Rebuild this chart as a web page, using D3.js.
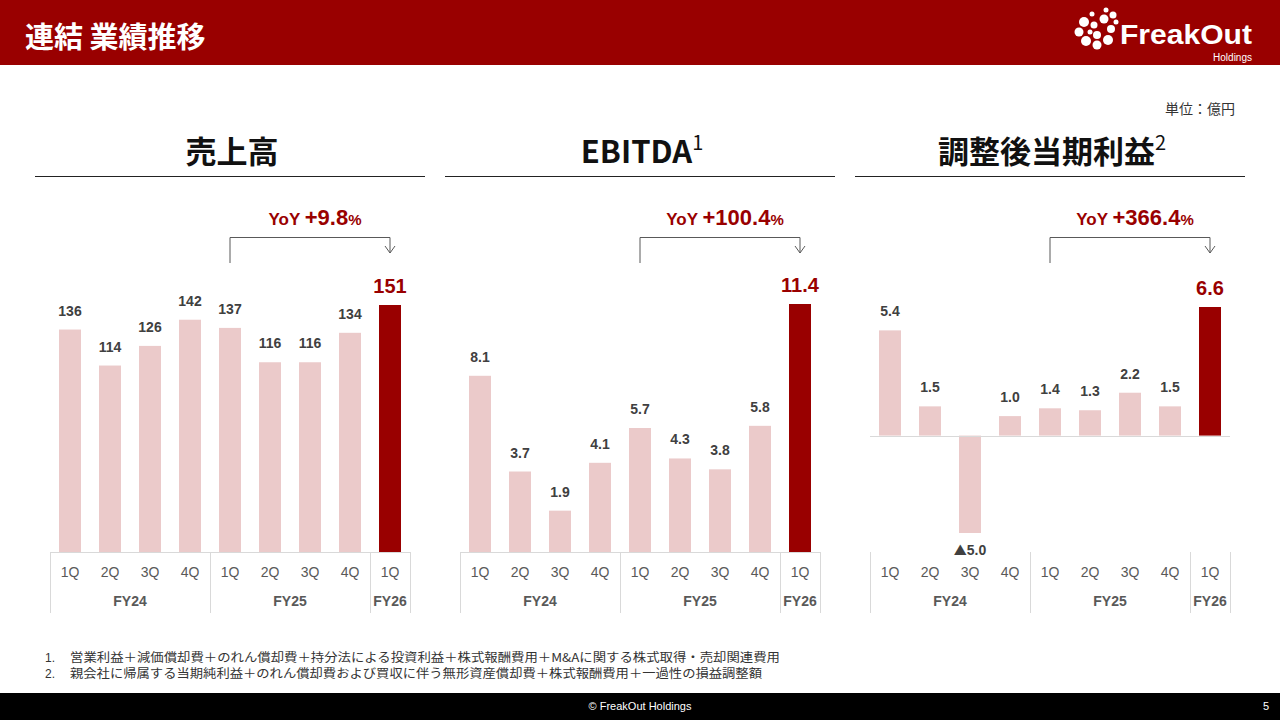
<!DOCTYPE html>
<html>
<head>
<meta charset="utf-8">
<script src="https://cdn.jsdelivr.net/npm/d3@7"></script>
<style>
  body { margin: 0; background: #fff; }
  svg { display: block; font-family: "Liberation Sans", "Noto Sans CJK JP", sans-serif; }
</style>
</head>
<body>
<div id="slide"></div>
<script>
// Quarter labels and fiscal year groups
const quarters = ["1Q", "2Q", "3Q", "4Q", "1Q", "2Q", "3Q", "4Q", "1Q"];
const fyLabels = ["FY24", "FY25", "FY26"];
const fySpans = [4, 4, 1];

// Series values (億円)
const sales = [136, 114, 126, 142, 137, 116, 116, 134, 151];
const ebitda = [8.1, 3.7, 1.9, 4.1, 5.7, 4.3, 3.8, 5.8, 11.4];
const adjProfit = [5.4, 1.5, -5.0, 1.0, 1.4, 1.3, 2.2, 1.5, 6.6];

const panelTitles = ["売上高", "EBITDA", "調整後当期利益"];
const titleNotes = ["", "1", "2"];
const yoyValues = ["+9.8", "+100.4", "+366.4"];
const valueFormats = ["d", ".1f", ".1f"];

const footnotes = [
    "営業利益＋減価償却費＋のれん償却費＋持分法による投資利益＋株式報酬費用＋M&Aに関する株式取得・売却関連費用",
    "親会社に帰属する当期純利益＋のれん償却費および買収に伴う無形資産償却費＋株式報酬費用＋一過性の損益調整額"
];
const footnoteWidths = [710, 692];

const W = 1280, H = 720;
const red = "#990000", pink = "#ebcaca";

const svg = d3.select("#slide").append("svg")
    .attr("width", W).attr("height", H);

// Header bar
svg.append("rect").attr("x", 0).attr("y", 0).attr("width", W).attr("height", 65).attr("fill", red);
svg.append("text").attr("x", 25).attr("y", 48)
    .attr("fill", "#fff").attr("font-size", 29).attr("font-weight", "bold")
    .attr("font-family", "Noto Sans CJK JP")
    .text("連結 業績推移");

// Logo (approximation)
const logo = svg.append("g").attr("fill", "#fff");
const dots = [
    [1084, 22, 5], [1079, 32, 4.5], [1086, 41, 5], [1097, 45, 4.5], [1108, 40, 5],
    [1111, 29, 4], [1104, 19, 4.5], [1094, 25, 3.5], [1097, 35, 4], [1090, 32, 2.5],
    [1113, 15, 3.5], [1106, 10, 2.5], [1116, 22, 2.5], [1092, 14, 2.5]
];
logo.selectAll("circle").data(dots).enter().append("circle")
    .attr("cx", d => d[0]).attr("cy", d => d[1]).attr("r", d => d[2]);
logo.append("text").attr("x", 1120).attr("y", 44)
    .attr("font-size", 28).attr("font-weight", "bold")
    .attr("textLength", 132).attr("lengthAdjust", "spacingAndGlyphs")
    .text("FreakOut");
logo.append("text").attr("x", 1252).attr("y", 61).attr("text-anchor", "end")
    .attr("font-size", 10).text("Holdings");

// Unit label
svg.append("text").attr("x", 1235).attr("y", 114).attr("text-anchor", "end")
    .attr("font-size", 14).attr("fill", "#333").attr("font-family", "Noto Sans CJK JP")
    .text("単位：億円");

const panels = [
    {data: sales, x0: 50, yRange: [552, 305]},
    {data: ebitda, x0: 460, yRange: [552, 304]},
    {data: adjProfit, x0: 870, yRange: [533, 307]}
];

panels.forEach((p, i) => {
    const g = svg.append("g");
    const n = p.data.length;

    // Title with optional superscript
    const title = g.append("text").attr("x", p.x0 + 182).attr("y", 163)
        .attr("text-anchor", "middle").attr("font-size", 31).attr("font-weight", "bold")
        .attr("font-family", "Noto Sans CJK JP").attr("fill", "#111");
    title.append("tspan").text(panelTitles[i]);
    if (titleNotes[i]) {
        title.append("tspan").attr("font-size", 20).attr("font-weight", "normal")
            .attr("dy", -13).text(titleNotes[i]);
    }
    g.append("line").attr("x1", p.x0 - 15).attr("x2", p.x0 + 375)
        .attr("y1", 176.5).attr("y2", 176.5).attr("stroke", "#222").attr("stroke-width", 1);

    // Scales
    const x = d3.scaleBand().domain(d3.range(n))
        .range([p.x0, p.x0 + 360]).paddingInner(0.45).paddingOuter(0.225);
    const lo = Math.min(0, d3.min(p.data)), hi = d3.max(p.data);
    const y = d3.scaleLinear().domain([lo, hi]).range(p.yRange);
    const fmt = d3.format(valueFormats[i]);

    // Bars
    g.selectAll("rect.bar").data(p.data).enter().append("rect")
        .attr("class", "bar")
        .attr("x", (d, j) => x(j))
        .attr("width", x.bandwidth())
        .attr("y", d => Math.min(y(d), y(0)))
        .attr("height", d => Math.abs(y(d) - y(0)))
        .attr("fill", (d, j) => j === n - 1 ? red : pink);

    // Zero axis line
    g.append("line").attr("x1", p.x0).attr("x2", p.x0 + 360)
        .attr("y1", Math.round(y(0)) + 0.5).attr("y2", Math.round(y(0)) + 0.5)
        .attr("stroke", "#d9d9d9");

    // Value labels
    const vals = g.selectAll("text.val").data(p.data).enter().append("text")
        .attr("class", "val")
        .attr("x", (d, j) => x(j) + x.bandwidth() / 2)
        .attr("y", (d, j) => d < 0 ? y(d) + 22 : y(d) - (j === n - 1 ? 12 : 14))
        .attr("text-anchor", "middle")
        .attr("font-weight", "bold")
        .attr("font-size", (d, j) => j === n - 1 ? 20 : 14)
        .attr("fill", (d, j) => j === n - 1 ? red : "#404040");
    vals.filter(d => d < 0).append("tspan")
        .attr("font-family", "Noto Sans CJK JP").attr("font-size", 13).text("▲");
    vals.append("tspan").text(d => fmt(Math.abs(d)));

    // Category axis: quarter labels and fiscal year groups
    g.selectAll("text.q").data(quarters).enter().append("text")
        .attr("class", "q")
        .attr("x", (d, j) => x(j) + x.bandwidth() / 2)
        .attr("y", 577).attr("text-anchor", "middle")
        .attr("font-size", 14).attr("fill", "#595959").text(d => d);

    const step = x.step();
    let start = 0;
    const bounds = [p.x0];
    fyLabels.forEach((fy, k) => {
        const a = p.x0 + start * step, b = p.x0 + (start + fySpans[k]) * step;
        g.append("text").attr("x", (a + b) / 2).attr("y", 606)
            .attr("text-anchor", "middle").attr("font-size", 14).attr("font-weight", "bold")
            .attr("fill", "#595959").text(fy);
        start += fySpans[k];
        bounds.push(b);
    });
    g.selectAll("line.sep").data(bounds).enter().append("line")
        .attr("class", "sep")
        .attr("x1", d => Math.round(d) + 0.5).attr("x2", d => Math.round(d) + 0.5)
        .attr("y1", 552).attr("y2", 613).attr("stroke", "#d9d9d9");

    // YoY bracket from prior-year 1Q to current 1Q
    const xa = x(4) + x.bandwidth() / 2, xb = x(n - 1) + x.bandwidth() / 2;
    g.append("path")
        .attr("d", `M${xa},263V237.5H${xb}V253`)
        .attr("fill", "none").attr("stroke", "#595959").attr("stroke-width", 1);
    g.append("path")
        .attr("d", `M${xb - 5},246L${xb},253L${xb + 5},246`)
        .attr("fill", "none").attr("stroke", "#595959").attr("stroke-width", 1);

    const yoy = g.append("text").attr("x", (xa + xb) / 2 + 5).attr("y", 225)
        .attr("text-anchor", "middle").attr("fill", red).attr("font-weight", "bold");
    yoy.append("tspan").attr("font-size", 17).text("YoY ");
    yoy.append("tspan").attr("font-size", 22).text(yoyValues[i]);
    yoy.append("tspan").attr("font-size", 15).text("%");
});

// Footnotes
footnotes.forEach((t, k) => {
    svg.append("text").attr("x", 45).attr("y", 662 + k * 16)
        .attr("font-size", 12).attr("fill", "#333").text((k + 1) + ".");
    svg.append("text").attr("x", 70).attr("y", 662 + k * 16)
        .attr("font-size", 12).attr("fill", "#333").attr("font-family", "Noto Sans CJK JP")
        .attr("textLength", footnoteWidths[k]).attr("lengthAdjust", "spacingAndGlyphs")
        .text(t);
});

// Footer
svg.append("rect").attr("x", 0).attr("y", 693).attr("width", W).attr("height", 27).attr("fill", "#000");
svg.append("text").attr("x", 640).attr("y", 710).attr("text-anchor", "middle")
    .attr("font-size", 11).attr("fill", "#fff").text("© FreakOut Holdings");
svg.append("text").attr("x", 1266).attr("y", 710).attr("text-anchor", "middle")
    .attr("font-size", 11).attr("fill", "#fff").text("5");
</script>
</body>
</html>
